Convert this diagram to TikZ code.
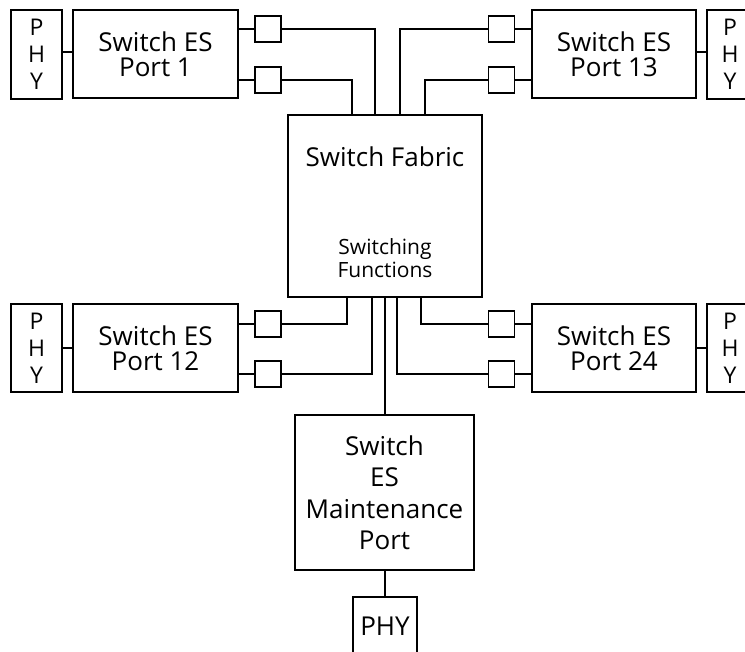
\documentclass[tikz,border=0pt]{standalone}
\usepackage{fontspec}
\setmainfont{Open Sans}
\begin{document}
\begin{tikzpicture}[x=1pt,y=-1pt,
  line width=1.9pt, line join=miter,
  box/.style={draw, inner sep=0pt, align=center, font=\fontsize{26}{25}\selectfont},
  portbox/.style={box, minimum width=165pt, minimum height=88pt},
  phybox/.style={draw, inner sep=0pt, align=center, minimum height=89pt, font=\fontsize{23}{27}\selectfont},
  sqbox/.style={draw, inner sep=0pt, minimum size=26pt},
  lbl/.style={inner sep=0pt, align=center}
]
\useasboundingbox (0,0) rectangle (745,652);
\begin{scope}
\clip (0,0) rectangle (745,652);
% top row
\node[phybox, minimum width=51pt] (phyA) at (36.5,54.5) {P\\H\\Y};
\node[portbox] (p1) at (155.5,54) {Switch ES\\Port 1};
\node[sqbox] (s1a) at (268,29) {};
\node[sqbox] (s1b) at (268,80) {};
\node[sqbox] (s13a) at (501.5,29) {};
\node[sqbox] (s13b) at (501.5,80) {};
\node[portbox, minimum width=164pt] (p13) at (614,54) {Switch ES\\Port 13};
\node[phybox, minimum width=46pt] (phyB) at (730,54.5) {P\\H\\Y};
% fabric
\node[draw, inner sep=0pt, minimum width=194pt, minimum height=182pt] (fab) at (385,206) {};
\node[lbl, font=\fontsize{26}{25}\selectfont] (fabt) at (385,157) {Switch Fabric};
\node[lbl, font=\fontsize{21}{23.5}\selectfont] (fabf) at (385,258) {Switching\\Functions};
% lower row
\node[phybox, minimum width=51pt, minimum height=88pt] (phyC) at (36.5,348) {P\\H\\Y};
\node[portbox] (p12) at (155.5,348) {Switch ES\\Port 12};
\node[sqbox] (s12a) at (268,324) {};
\node[sqbox] (s12b) at (268,374) {};
\node[sqbox] (s24a) at (501.5,324) {};
\node[sqbox] (s24b) at (501.5,374) {};
\node[portbox, minimum width=164pt] (p24) at (614,348) {Switch ES\\Port 24};
\node[phybox, minimum width=46pt, minimum height=88pt] (phyD) at (730,348) {P\\H\\Y};
% maintenance
\node[box, minimum width=179pt, minimum height=155pt, font=\fontsize{26}{31.5}\selectfont] (mnt) at (384.5,492.5) {Switch\\ES\\Maintenance\\Port};
\node[box, minimum width=64pt, minimum height=58pt] (phyE) at (385,626) {PHY};
% connectors top
\draw (phyA.east |- 0,52) -- (p1.west |- 0,52);
\draw (p13.east |- 0,52) -- (phyB.west |- 0,52);
\draw (p1.east |- s1a) -- (s1a.west);
\draw (p1.east |- s1b) -- (s1b.west);
\draw (s13a.east) -- (p13.west |- s13a);
\draw (s13b.east) -- (p13.west |- s13b);
\draw (s1a.east) -| ([xshift=-10pt]fab.north);
\draw (s1b.east) -| ([xshift=-33pt]fab.north);
\draw (s13a.west) -| ([xshift=15pt]fab.north);
\draw (s13b.west) -| ([xshift=40pt]fab.north);
% connectors lower
\draw (phyC.east |- 0,348) -- (p12.west |- 0,348);
\draw (p24.east |- 0,348) -- (phyD.west |- 0,348);
\draw (p12.east |- s12a) -- (s12a.west);
\draw (p12.east |- s12b) -- (s12b.west);
\draw (s24a.east) -- (p24.west |- s24a);
\draw (s24b.east) -- (p24.west |- s24b);
\draw (s12a.east) -| ([xshift=-38pt]fab.south);
\draw (s12b.east) -| ([xshift=-13pt]fab.south);
\draw (s24a.west) -| ([xshift=36pt]fab.south);
\draw (s24b.west) -| ([xshift=12pt]fab.south);
\draw (fab.south) -- (fab.south |- mnt.north);
\draw (mnt.south -| phyE.north) -- (phyE.north);
\end{scope}
\end{tikzpicture}
\end{document}
